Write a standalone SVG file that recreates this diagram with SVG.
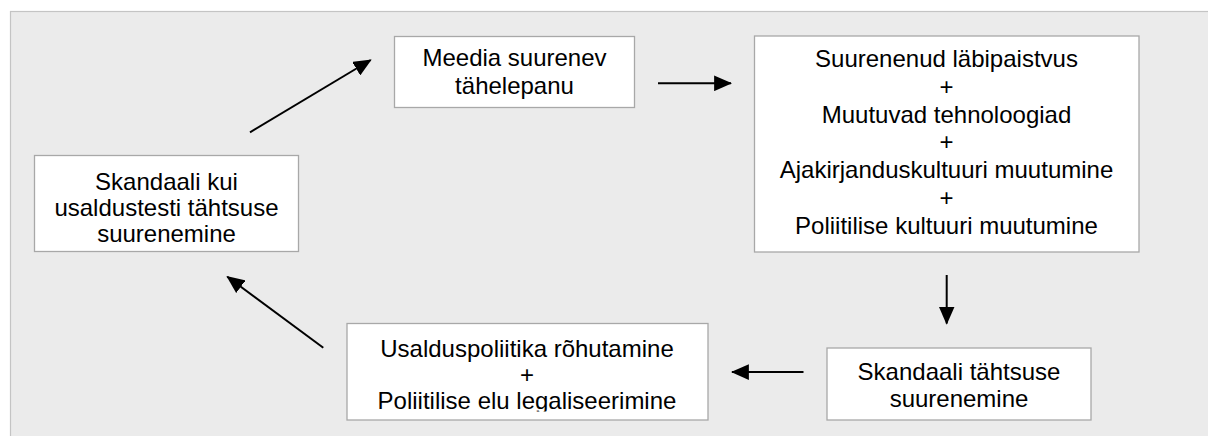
<svg xmlns="http://www.w3.org/2000/svg" width="1208" height="436" viewBox="0 0 1208 436">
  <style>
    .panel { fill: #ebebeb; stroke: #c4c4c4; stroke-width: 1.2; }
    .box { fill: #ffffff; stroke: #a8a8a8; stroke-width: 1.3; }
    .lbl { font-family: "Liberation Sans", Arial, sans-serif; font-size: 24px; fill: #000000; text-anchor: middle; }
    .conn { stroke: #000000; stroke-width: 2; fill: none; marker-end: url(#arrow); }
  </style>
  <defs>
    <marker id="arrow" markerUnits="userSpaceOnUse" markerWidth="18" markerHeight="16" viewBox="0 0 16 14" refX="15" refY="7" orient="auto">
      <path d="M0,0 L16,7 L0,14 Z" fill="#000000"/>
    </marker>
    <clipPath id="clip1"><rect x="34" y="155" width="266" height="87.5"/></clipPath>
    <clipPath id="clip2"><rect x="394" y="36" width="242" height="63"/></clipPath>
    <clipPath id="clip5"><rect x="346" y="323" width="363" height="88.5"/></clipPath>
  </defs>

  <rect class="panel" x="10.5" y="11.5" width="1210" height="440"/>

  <g id="node-skandaal-usaldustest">
    <rect class="box" x="34.5" y="155.5" width="264" height="96"/>
    <g clip-path="url(#clip1)">
      <text class="lbl" x="166.5" y="189.5">Skandaali kui</text>
      <text class="lbl" x="166.5" y="215.7">usaldustesti tähtsuse</text>
      <text class="lbl" x="166.5" y="241.8">suurenemine</text>
    </g>
  </g>

  <g id="node-meedia">
    <rect class="box" x="394.5" y="36.5" width="240" height="71"/>
    <g clip-path="url(#clip2)">
      <text class="lbl" x="514.5" y="66">Meedia suurenev</text>
      <text class="lbl" x="514.5" y="94.3">tähelepanu</text>
    </g>
  </g>

  <g id="node-pohjused">
    <rect class="box" x="754.5" y="36" width="384.5" height="216"/>
    <text class="lbl" x="946.5" y="67">Suurenenud läbipaistvus</text>
    <text class="lbl" x="946.5" y="94.8">+</text>
    <text class="lbl" x="946.5" y="122.5">Muutuvad tehnoloogiad</text>
    <text class="lbl" x="946.5" y="150.3">+</text>
    <text class="lbl" x="946.5" y="178">Ajakirjanduskultuuri muutumine</text>
    <text class="lbl" x="946.5" y="205.8">+</text>
    <text class="lbl" x="946.5" y="233.5">Poliitilise kultuuri muutumine</text>
  </g>

  <g id="node-skandaal-tahtsus">
    <rect class="box" x="827" y="348" width="264" height="72"/>
    <text class="lbl" x="959" y="380">Skandaali tähtsuse</text>
    <text class="lbl" x="959" y="406.7">suurenemine</text>
  </g>

  <g id="node-usalduspoliitika">
    <rect class="box" x="347" y="323.5" width="361" height="96.5"/>
    <g clip-path="url(#clip5)">
      <text class="lbl" x="527" y="356.5">Usalduspoliitika rõhutamine</text>
      <text class="lbl" x="527" y="382.5">+</text>
      <text class="lbl" x="527" y="408.5">Poliitilise elu legaliseerimine</text>
    </g>
  </g>

  <g id="connectors">
    <line class="conn" x1="250" y1="132.3" x2="370.7" y2="60"/>
    <line class="conn" x1="658" y1="83.3" x2="731" y2="83.3"/>
    <line class="conn" x1="946.7" y1="275" x2="946.7" y2="323.5"/>
    <line class="conn" x1="803.5" y1="372" x2="732" y2="372"/>
    <line class="conn" x1="323.3" y1="347.7" x2="227.3" y2="276.7"/>
  </g>
</svg>
